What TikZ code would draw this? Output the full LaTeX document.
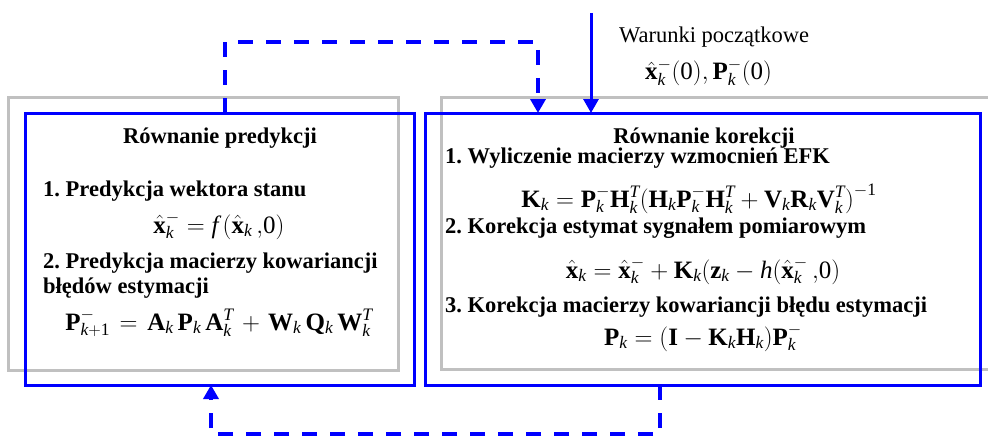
\documentclass[tikz,border=0pt]{standalone}
\usepackage{fontspec}
\setmainfont{Liberation Serif}
\setmathrm{Liberation Serif}
\usetikzlibrary{arrows.meta}
\definecolor{pureblue}{RGB}{0,0,255}
\definecolor{boxgray}{RGB}{192,192,192}
\newcommand{\kidx}{\mathit{k}}
\newcommand{\hx}{\hat{\mathbf{x}}}
\newcommand{\lpar}{\mathopen{\mathrm{(}}}
\newcommand{\rpar}{\mathclose{\mathrm{)}}}
\newcommand{\zer}{\mathrm{0}}
\newcommand{\one}{\mathrm{1}}
\newcommand{\fgap}{\mkern3mu}
\newcommand{\ogap}{\mkern2mu}
\frenchspacing
\begin{document}
\begin{tikzpicture}[x=1pt,y=-1pt,
  graybox/.style={draw=boxgray,line width=3pt},
  bluebox/.style={draw=pureblue,line width=3pt,inner sep=0pt,outer sep=0pt},
  dashedarrow/.style={draw=pureblue,line width=3.5pt,dash pattern=on 15pt off 13pt,-{Triangle[width=15pt,length=14pt]}},
  solidarrow/.style={draw=pureblue,line width=3pt,-{Triangle[width=15pt,length=14pt]}},
  txt/.style={inner sep=0pt,font=\fontsize{22.5}{27}\selectfont\bfseries},
  plain/.style={inner sep=0pt,font=\fontsize{22.5}{27}\selectfont},
  eq/.style={inner sep=0pt,font=\fontsize{25}{30}\selectfont}]
\useasboundingbox (0,0) rectangle (988,436);
% gray frames
\draw[graybox] (8,97) rectangle (398,370);
\draw[graybox] (441,97) rectangle (1010,369);
% blue boxes
\node[bluebox,minimum width=389pt,minimum height=272pt] (pred) at (219.5,249) {};
\node[bluebox,minimum width=555pt,minimum height=272pt] (corr) at (702.5,249) {};
% left box texts
\node[txt,anchor=base] (ptitle) at (220,143) {Równanie predykcji};
\node[txt,anchor=base west] (p1) at (43,196) {1. Predykcja wektora stanu};
\node[eq,anchor=base] (pf1) at (219,233) {$\hx_{\kidx}^{-} = \mathit{f}\,\lpar\hx_{\kidx}\,{,}\zer\rpar$};
\node[txt,anchor=base west] (p2) at (43,268) {2. Predykcja macierzy kowariancji};
\node[txt,anchor=base west] (p2b) at (43,293) {błędów estymacji};
\node[eq,anchor=base] (pf2) at (219,330) {$\mathbf{P}_{\kidx+\one}^{-} \ogap=\ogap \mathbf{A}_{\kidx}\fgap\mathbf{P}_{\kidx}\fgap\mathbf{A}_{\kidx}^{\mathit{T}} \ogap+\ogap \mathbf{W}_{\kidx}\fgap\mathbf{Q}_{\kidx}\fgap\mathbf{W}_{\kidx}^{\mathit{T}}$};
% right box texts
\node[txt,anchor=base] (ctitle) at (704,143) {Równanie korekcji};
\node[txt,anchor=base west] (c1) at (445,163) {1. Wyliczenie macierzy wzmocnień EFK};
\node[eq,anchor=base] (cf1) at (699,207) {$\mathbf{K}_{\kidx} = \mathbf{P}_{\kidx}^{-}\mathbf{H}_{\kidx}^{\mathit{T}}\lpar\mathbf{H}_{\kidx}\mathbf{P}_{\kidx}^{-}\mathbf{H}_{\kidx}^{\mathit{T}} + \mathbf{V}_{\kidx}\mathbf{R}_{\kidx}\mathbf{V}_{\kidx}^{\mathit{T}}\rpar^{-\one}$};
\node[txt,anchor=base west] (c2) at (445,233) {2. Korekcja estymat sygnałem pomiarowym};
\node[eq,anchor=base] (cf2) at (703,278) {$\hx_{\kidx} = \hx_{\kidx}^{-} + \mathbf{K}_{\kidx}\lpar\mathbf{z}_{\kidx} - \mathit{h}\lpar\hx_{\kidx}^{-}\,{,}\zer\rpar$};
\node[txt,anchor=base west] (c3) at (445,312) {3. Korekcja macierzy kowariancji błędu estymacji};
\node[eq,anchor=base] (cf3) at (703,345) {$\mathbf{P}_{\kidx} = \lpar\mathbf{I} - \mathbf{K}_{\kidx}\mathbf{H}_{\kidx}\rpar\mathbf{P}_{\kidx}^{-}$};
% initial conditions
\node[plain,anchor=base west] (w1) at (619,43) {Warunki początkowe};
\node[eq,anchor=base west] (w2) at (645,80) {$\hx_{\kidx}^{-}\lpar\zer\rpar,\mathbf{P}_{\kidx}^{-}\lpar\zer\rpar$};
% connectors
\coordinate (tl) at (225,42);
\coordinate (tr) at (538,42);
\coordinate (bl) at (211,434);
\coordinate (br) at (660,434);
\coordinate (init) at (591,13);
\draw[dashedarrow] (pred.north -| tl) -- (tl) -- (tr) -- (corr.north -| tr);
\draw[dashedarrow] (corr.south -| br) -- (br) -- (bl) -- (pred.south -| bl);
\draw[solidarrow] (init) -- (corr.north -| init);
\end{tikzpicture}
\end{document}
